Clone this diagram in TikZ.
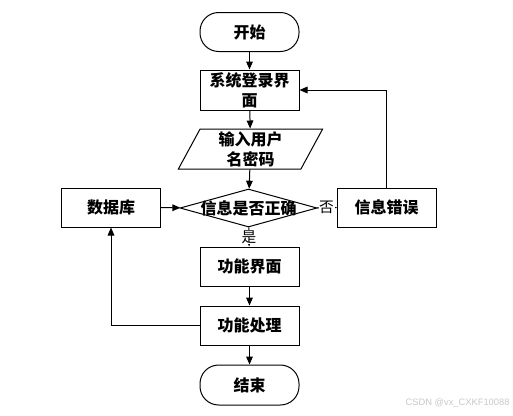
\documentclass[tikz,border=0pt]{standalone}
\usepackage{fontspec}
\newfontfamily\cjk{Noto Sans CJK SC}
\newfontfamily\wmfont{Liberation Sans}
\usetikzlibrary{arrows.meta,shapes.geometric}

\definecolor{wmgray}{RGB}{200,200,200}

\tikzset{every picture/.style={line width=0.75pt}}
\tikzset{
  boxtext/.style={font=\cjk\bfseries\fontsize{12}{15}\selectfont},
  flowbox/.style={boxtext, draw, rectangle, minimum width=74.25pt, minimum height=29.25pt, inner sep=0.75pt, align=center},
  termbox/.style={flowbox, rounded corners=14pt},
  iobox/.style={boxtext, align=center, draw, trapezium, trapezium stretches=true, trapezium left angle=69, trapezium right angle=111, minimum width=108.75pt, minimum height=30pt, inner sep=0.5pt},
  checkbox/.style={draw, diamond, minimum width=102.75pt, minimum height=28.5pt, inner sep=0pt},
  flowarrow/.style={-{Triangle[width=5pt,length=6pt]}},
  yesno/.style={font=\cjk\fontsize{11}{13}\selectfont, fill=white, inner sep=0.5pt}
}

\begin{document}
\begin{tikzpicture}[x=0.75pt,y=0.75pt,yscale=-1,xscale=1]
    \useasboundingbox (0,0) rectangle (513,415);

    %Shape: Terminal
    \node [termbox] (start) at (249.5,32) {开始};
    %Shape: Rectangle
    \node [flowbox, minimum height=30pt] (login) at (249.5,90) {系统登录界\\面};
    %Shape: Parallelogram
    \node [iobox] (input) at (250.5,149) {输入用户\\名密码};
    %Shape: Diamond
    \node [checkbox, label={[boxtext]center:信息是否正确}] (check) at (248.5,208) {};
    %Shape: Rectangle
    \node [flowbox] (db) at (111,207.5) {数据库};
    %Shape: Rectangle
    \node [flowbox] (err) at (386.5,207.5) {信息错误};
    %Shape: Rectangle
    \node [flowbox] (func) at (249.5,266.5) {功能界面};
    %Shape: Rectangle
    \node [flowbox] (proc) at (249.5,325.5) {功能处理};
    %Shape: Terminal
    \node [termbox, minimum height=30pt] (end) at (249.5,385) {结束};

    %Straight Lines
    \draw [flowarrow] (start) -- (login);
    \draw [flowarrow] (login) -- (input);
    \draw [flowarrow] (input) -- (check);
    \draw [flowarrow] (db) -- (check);
    \draw (check) -- node [yesno] {否} (err);
    \draw [flowarrow] (check) -- node [yesno] {是} (func);
    \draw [flowarrow] (func) -- (proc);
    \draw [flowarrow] (proc) -- (end);
    %Elbow Lines
    \draw [flowarrow] (err.north) |- (login.east);
    \draw [flowarrow] (proc.west) -| (db.south);

    % Text Node
    \node [anchor=east, text=wmgray, font=\wmfont\fontsize{7}{8}\selectfont, inner sep=0pt] (wm) at (510,403) {CSDN @vx\_CXKF10088};

\end{tikzpicture}
\end{document}
